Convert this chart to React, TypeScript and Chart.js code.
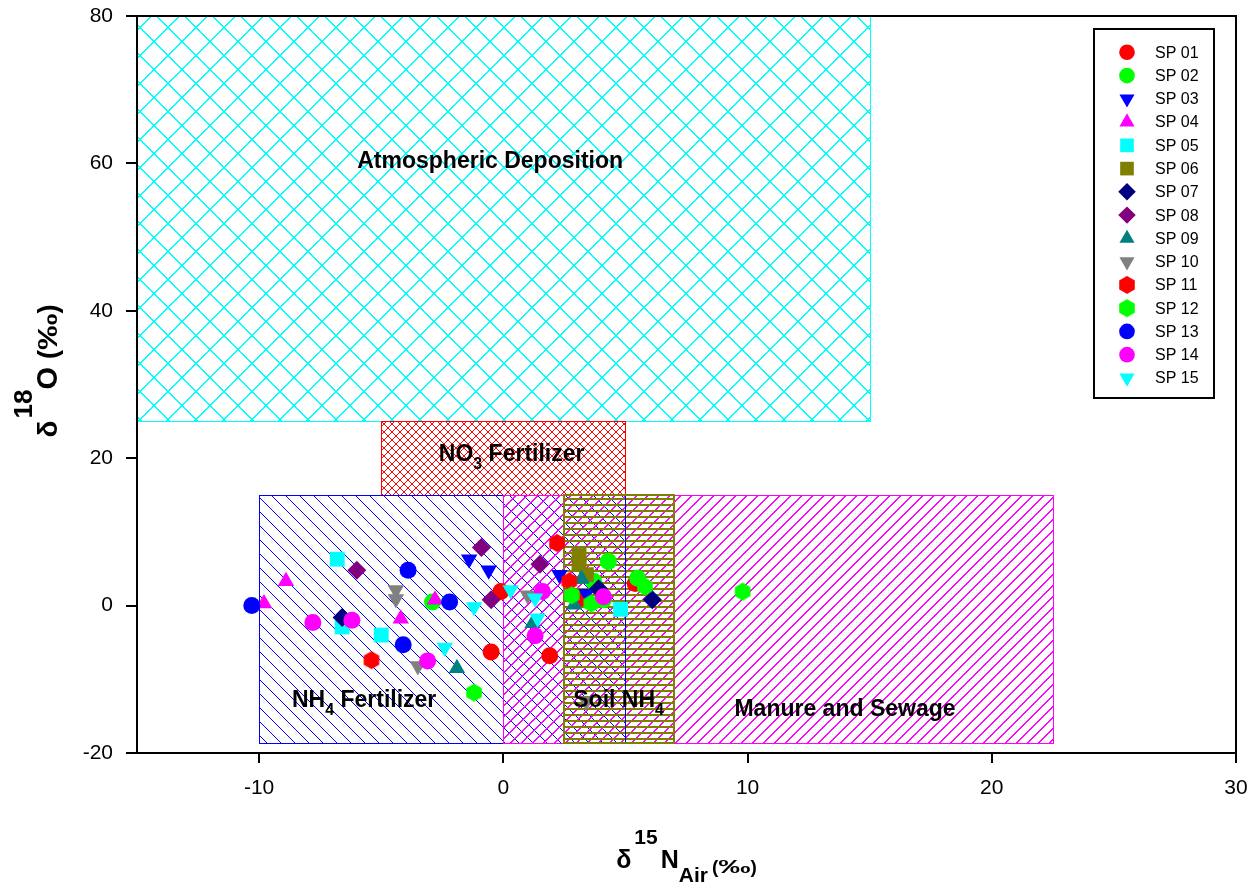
import React, { useEffect, useRef } from 'react';
import { Chart, registerables } from 'chart.js';
import { drawPoint } from 'chart.js/helpers';

Chart.register(...registerables);

const FONT = '"Liberation Sans", Arial, Helvetica, sans-serif';

// ---- data ----
const seriesNames = ['SP 01', 'SP 02', 'SP 03', 'SP 04', 'SP 05', 'SP 06', 'SP 07', 'SP 08', 'SP 09', 'SP 10', 'SP 11', 'SP 12', 'SP 13', 'SP 14', 'SP 15'];

const sp01 = [[-0.5, -6.3], [1.9, -6.8], [-0.1, 1.9], [3.2, 1.0], [5.4, 3.0]];
const sp02 = [[-2.9, 0.5], [4.3, 6.0], [3.7, 3.3], [4.1, 0.8], [5.5, 3.7]];
const sp03 = [[-1.4, 6.3], [-0.6, 4.8], [2.3, 4.2], [3.4, 1.6]];
const sp04 = [[-9.8, 0.3], [-8.9, 3.3], [-2.8, 0.8], [-4.2, -1.8]];
const sp05 = [[-6.8, 6.3], [-6.6, -2.9], [-5.0, -4.0], [4.8, -0.5]];
const sp06 = [[3.1, 6.8], [3.1, 5.6], [3.4, 4.2]];
const sp07 = [[-6.6, -1.6], [3.9, 2.3], [6.1, 0.8]];
const sp08 = [[-6.0, 4.8], [-0.9, 7.9], [-0.5, 0.8], [1.5, 5.6]];
const sp09 = [[-1.9, -8.5], [1.2, -2.4], [3.2, 3.6], [2.9, 0.1]];
const sp10 = [[-4.4, 2.1], [-4.4, 0.9], [-3.5, -8.2], [1.0, 1.4], [3.4, -13.0]];
const sp11 = [[-5.4, -7.4], [2.2, 8.5], [2.7, 3.3]];
const sp12 = [[-1.2, -11.8], [2.8, 1.4], [3.6, 0.3], [5.8, 2.6], [9.8, 1.9]];
const sp13 = [[-10.3, 0.0], [-3.9, 4.8], [-2.2, 0.5], [-4.1, -5.3]];
const sp14 = [[-7.8, -2.3], [-6.2, -2.0], [-3.1, -7.5], [1.6, 1.9], [1.3, -4.1], [4.1, 1.2]];
const sp15 = [[-1.2, -0.2], [-2.4, -5.7], [0.3, 2.1], [1.3, 1.0], [1.4, -1.7]];

const seriesData = [sp01, sp02, sp03, sp04, sp05, sp06, sp07, sp08, sp09, sp10, sp11, sp12, sp13, sp14, sp15];

const seriesColors = ['#FF0000', '#00FF00', '#0000FF', '#FF00FF', '#00FFFF', '#808000', '#000080', '#800080', '#008080', '#808080', '#FF0000', '#00FF00', '#0000FF', '#FF00FF', '#00FFFF'];
const seriesShapes = ['circle', 'circle', 'triDown', 'triangle', 'rect', 'rect', 'rectRot', 'rectRot', 'triangle', 'triDown', 'hexagon', 'hexagon', 'circle', 'circle', 'triDown'];

const xTickValues = [-10, 0, 10, 20, 30];
const yTickValues = [-20, 0, 20, 40, 60, 80];

// source regions: [xMin, xMax, yMin, yMax]
const atmBox = [-15, 15, 25, 80];
const no3Box = [-5, 5, 15, 25];
const nh4Box = [-10, 5, -18.7, 15];
const manureBox = [0, 22.5, -18.7, 15];
const soilBox = [2.5, 7, -18.7, 15];

// ---- helpers ----
function hexagonCanvas(color: string, r: number) {
  const c = document.createElement('canvas');
  const size = Math.ceil(r * 2) + 2;
  c.width = size;
  c.height = size;
  const g = c.getContext('2d')!;
  g.fillStyle = color;
  g.beginPath();
  for (let i = 0; i < 6; i++) {
    const a = Math.PI / 2 + (i * Math.PI) / 3;
    const px = size / 2 + r * Math.cos(a);
    const py = size / 2 + r * Math.sin(a);
    if (i === 0) g.moveTo(px, py);
    else g.lineTo(px, py);
  }
  g.closePath();
  g.fill();
  return c;
}

function styleFor(shape: string, color: string) {
  switch (shape) {
    case 'circle':
      return { pointStyle: 'circle' as any, radius: 8.5, rotation: 0 };
    case 'triangle':
      return { pointStyle: 'triangle' as any, radius: 9.5, rotation: 0 };
    case 'triDown':
      return { pointStyle: 'triangle' as any, radius: 9.5, rotation: 180 };
    case 'rect':
      return { pointStyle: 'rect' as any, radius: 10.5, rotation: 0 };
    case 'rectRot':
      return { pointStyle: 'rectRot' as any, radius: 9.5, rotation: 0 };
    case 'hexagon':
    default:
      return { pointStyle: hexagonCanvas(color, 9) as any, radius: 9, rotation: 0 };
  }
}

type Pat = 'cross' | 'fwd' | 'back' | 'horiz';
function makePattern(ctx: CanvasRenderingContext2D, kind: Pat, color: string, s: number, thick: boolean) {
  const c = document.createElement('canvas');
  c.width = s;
  c.height = s;
  const g = c.getContext('2d')!;
  g.fillStyle = color;
  if (kind === 'horiz') {
    g.fillRect(0, 0, s, 2);
  } else {
    for (let i = 0; i < s; i++) {
      if (kind === 'back' || kind === 'cross') {
        g.fillRect(i, i, 1, 1);
        if (thick) g.fillRect((i + 1) % s, i, 1, 1);
      }
      if (kind === 'fwd' || kind === 'cross') {
        g.fillRect(s - 1 - i, i, 1, 1);
        if (thick) g.fillRect((2 * s - 2 - i) % s, i, 1, 1);
      }
    }
  }
  return ctx.createPattern(c, 'repeat')!;
}

type Run = { t: string; size: number; dy?: number; sx?: number; gap?: number };
function runsWidth(ctx: CanvasRenderingContext2D, runs: Run[]) {
  let w = 0;
  for (const r of runs) {
    ctx.font = `bold ${r.size}px ${FONT}`;
    w += ctx.measureText(r.t).width * (r.sx || 1) + (r.gap || 0);
  }
  return w;
}
function drawRuns(ctx: CanvasRenderingContext2D, runs: Run[], cx: number, y: number) {
  let x = cx - runsWidth(ctx, runs) / 2;
  ctx.textAlign = 'left';
  ctx.textBaseline = 'alphabetic';
  for (const r of runs) {
    ctx.font = `bold ${r.size}px ${FONT}`;
    const w = ctx.measureText(r.t).width * (r.sx || 1);
    ctx.save();
    ctx.translate(x, y + (r.dy || 0));
    ctx.scale(r.sx || 1, 1);
    ctx.fillText(r.t, 0, 0);
    ctx.restore();
    x += w + (r.gap || 0);
  }
}

const regionLabels: { runs: Run[]; x: number; y: number }[] = [
  { runs: [{ t: 'Atmospheric Deposition', size: 23 }], x: -0.54, y: 59.4 },
  { runs: [{ t: 'NO', size: 23 }, { t: '3', size: 16, dy: 8 }, { t: ' Fertilizer', size: 23 }], x: 0.34, y: 19.6 },
  { runs: [{ t: 'NH', size: 23 }, { t: '4', size: 16, dy: 8 }, { t: ' Fertilizer', size: 23 }], x: -5.7, y: -13.7 },
  { runs: [{ t: 'Soil NH', size: 23 }, { t: '4', size: 16, dy: 8 }], x: 4.72, y: -13.7 },
  { runs: [{ t: 'Manure and Sewage', size: 23 }], x: 13.99, y: -15.0 },
];

const regionsPlugin = {
  id: 'regions',
  beforeDatasetsDraw(chart: any) {
    const { ctx, chartArea, scales } = chart;
    const xs = scales.x;
    const ys = scales.y;
    const boxes: { b: number[]; kind: Pat; color: string; s: number; bw: number; thick: boolean }[] = [
      { b: atmBox, kind: 'cross', color: '#00FFFF', s: 28, bw: 1, thick: true },
      { b: no3Box, kind: 'cross', color: '#FF0000', s: 8, bw: 1, thick: false },
      { b: nh4Box, kind: 'back', color: '#0000FF', s: 14, bw: 1, thick: false },
      { b: manureBox, kind: 'fwd', color: '#FF00FF', s: 11, bw: 1, thick: true },
      { b: soilBox, kind: 'horiz', color: '#808000', s: 6, bw: 2, thick: false },
    ];
    ctx.save();
    ctx.beginPath();
    ctx.rect(chartArea.left, chartArea.top, chartArea.right - chartArea.left, chartArea.bottom - chartArea.top);
    ctx.clip();
    for (const bx of boxes) {
      const x0 = Math.round(xs.getPixelForValue(bx.b[0]));
      const x1 = Math.round(xs.getPixelForValue(bx.b[1]));
      const y0 = Math.round(ys.getPixelForValue(bx.b[3]));
      const y1 = Math.round(ys.getPixelForValue(bx.b[2]));
      ctx.fillStyle = makePattern(ctx, bx.kind, bx.color, bx.s, bx.thick);
      ctx.fillRect(x0, y0, x1 - x0, y1 - y0);
    }
    for (const bx of boxes) {
      const x0 = Math.round(xs.getPixelForValue(bx.b[0]));
      const x1 = Math.round(xs.getPixelForValue(bx.b[1]));
      const y0 = Math.round(ys.getPixelForValue(bx.b[3]));
      const y1 = Math.round(ys.getPixelForValue(bx.b[2]));
      ctx.strokeStyle = bx.color;
      ctx.lineWidth = bx.bw;
      const off = bx.bw === 1 ? 0.5 : 0;
      ctx.strokeRect(x0 + off, y0 + off, x1 - x0, y1 - y0);
    }
    ctx.restore();
  },
  afterDatasetsDraw(chart: any) {
    const { ctx, chartArea, scales } = chart;
    ctx.save();
    ctx.fillStyle = '#000';
    for (const lb of regionLabels) {
      drawRuns(ctx, lb.runs, scales.x.getPixelForValue(lb.x), scales.y.getPixelForValue(lb.y));
    }
    ctx.restore();

    // frame
    ctx.save();
    ctx.strokeStyle = '#000';
    ctx.lineWidth = 2;
    ctx.strokeRect(chartArea.left, chartArea.top, chartArea.right - chartArea.left, chartArea.bottom - chartArea.top);
    ctx.restore();

    // axis titles
    ctx.save();
    ctx.fillStyle = '#000';
    const cxMid = (chartArea.left + chartArea.right) / 2;
    drawRuns(
      ctx,
      [
        { t: 'δ', size: 25, gap: 3 },
        { t: '15', size: 21, dy: -24, gap: 3 },
        { t: 'N', size: 25 },
        { t: 'Air', size: 21, dy: 14, gap: 4 },
        { t: '(', size: 19, dy: 5 },
        { t: '‰', size: 19, dy: 5, sx: 1.7 },
        { t: ')', size: 19, dy: 5 },
      ],
      cxMid,
      chartArea.bottom + 115
    );
    ctx.translate(57, chartArea.top + 355);
    ctx.rotate(-Math.PI / 2);
    drawRuns(
      ctx,
      [
        { t: 'δ', size: 28, gap: 2 },
        { t: '18', size: 26, dy: -25 },
        { t: 'O', size: 29, gap: 8 },
        { t: '(', size: 27 },
        { t: '‰', size: 27, sx: 1.35 },
        { t: ')', size: 27 },
      ],
      0,
      0
    );
    ctx.restore();

    // legend
    const left = chartArea.right - 142;
    const top = chartArea.top + 13;
    const w = 120;
    const h = 369;
    ctx.save();
    ctx.fillStyle = '#fff';
    ctx.fillRect(left, top, w, h);
    ctx.strokeStyle = '#000';
    ctx.lineWidth = 2;
    ctx.strokeRect(left, top, w, h);
    ctx.font = `16px ${FONT}`;
    ctx.textBaseline = 'middle';
    ctx.textAlign = 'left';
    chart.data.datasets.forEach((ds: any, i: number) => {
      const y = top + 23.3 + i * 23.26;
      ctx.fillStyle = ds.backgroundColor;
      ctx.strokeStyle = ds.backgroundColor;
      drawPoint(ctx, { pointStyle: ds.pointStyle, rotation: ds.pointRotation, radius: ds.pointRadius * 0.92, borderWidth: 0 } as any, left + 33, y);
      ctx.fillStyle = '#000';
      ctx.fillText(ds.label, left + 61, y + 1);
    });
    ctx.restore();
  },
};

export default function App() {
  const ref = useRef<HTMLCanvasElement>(null);
  useEffect(() => {
    document.body.style.margin = '0';
    Chart.defaults.font.family = FONT;
    Chart.defaults.color = '#000';
    const datasets = seriesData.map((pts, i) => {
      const st = styleFor(seriesShapes[i], seriesColors[i]);
      return {
        label: seriesNames[i],
        data: pts.map(([x, y]) => ({ x, y })),
        backgroundColor: seriesColors[i],
        borderColor: seriesColors[i],
        pointStyle: st.pointStyle,
        pointRadius: st.radius,
        pointRotation: st.rotation,
        pointBorderWidth: 0,
        pointHoverRadius: st.radius,
        order: 15 - i,
      };
    });
    const chart = new Chart(ref.current!, {
      type: 'scatter',
      data: { datasets },
      options: {
        animation: false,
        responsive: true,
        maintainAspectRatio: false,
        layout: { autoPadding: false, padding: { top: 16, right: 24, left: 0, bottom: 0 } },
        plugins: { legend: { display: false }, tooltip: { enabled: false } },
        events: [],
        scales: {
          x: {
            type: 'linear',
            min: -15,
            max: 30,
            afterBuildTicks: (s: any) => {
              s.ticks = xTickValues.map((v) => ({ value: v }));
            },
            afterFit: (s: any) => {
              s.height = 135;
              s.paddingLeft = 0;
              s.paddingRight = 0;
            },
            ticks: { font: { size: 21 }, color: '#000', padding: 13, maxRotation: 0 },
            grid: { display: true, drawOnChartArea: false, drawTicks: true, tickLength: 10, color: '#000', lineWidth: 2 },
            border: { display: true, color: '#000', width: 2 },
            title: { display: false },
          },
          y: {
            type: 'linear',
            min: -20,
            max: 80,
            afterBuildTicks: (s: any) => {
              s.ticks = yTickValues.map((v) => ({ value: v }));
            },
            afterFit: (s: any) => {
              s.width = 137;
              s.paddingTop = 0;
              s.paddingBottom = 0;
            },
            ticks: { font: { size: 21 }, color: '#000', padding: 13 },
            grid: { display: true, drawOnChartArea: false, drawTicks: true, tickLength: 11, color: '#000', lineWidth: 2 },
            border: { display: true, color: '#000', width: 2 },
            title: { display: false },
          },
        },
      } as any,
      plugins: [regionsPlugin],
    });
    return () => chart.destroy();
  }, []);
  return (
    <div style={{ position: 'relative', width: 1260, height: 888 }}>
      <canvas ref={ref} />
    </div>
  );
}
